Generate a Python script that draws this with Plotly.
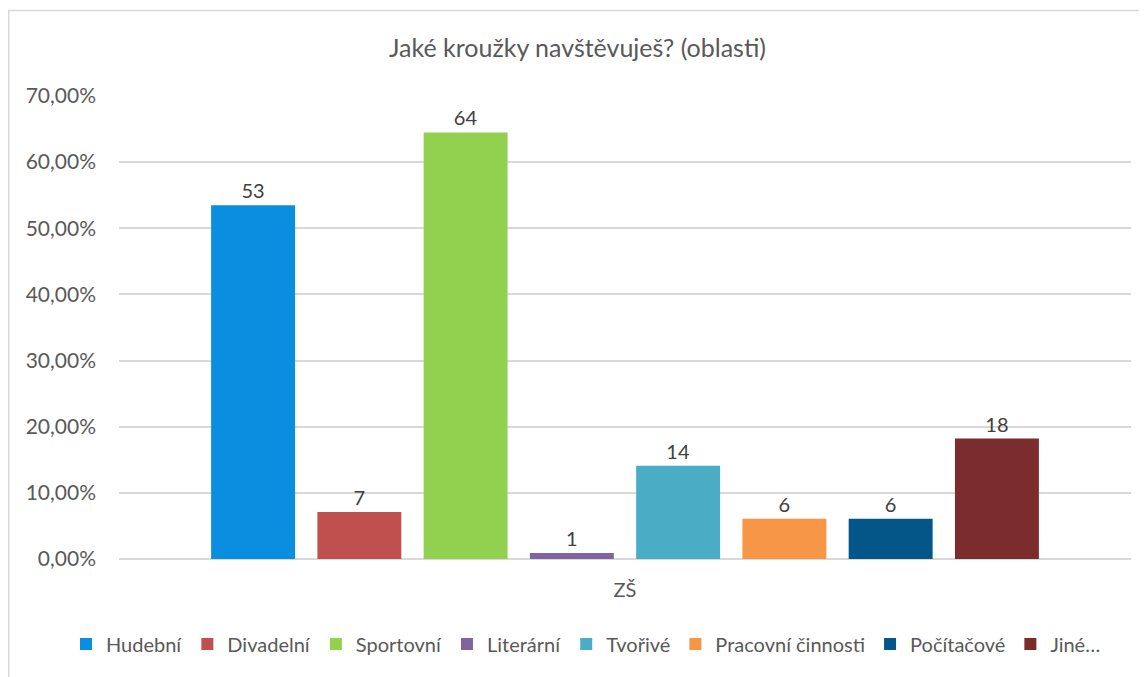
import plotly.graph_objects as go

category = ["ZŠ"]
series_names = ["Hudební", "Divadelní", "Sportovní", "Literární", "Tvořivé",
                "Pracovní činnosti", "Počítačové", "Jiné…"]
shares = [0.535, 0.071, 0.645, 0.009, 0.141, 0.061, 0.061, 0.182]
labels = ["53", "7", "64", "1", "14", "6", "6", "18"]
colors = ["#0A8EE0", "#C0504D", "#92D050", "#8064A2", "#4BACC6",
          "#F79646", "#045688", "#7B2C2C"]

FONT = "Lato, 'Open Sans', sans-serif"

W, H = 1139, 669
ML, MR, MT, MB = 111, 16, 88, 118
PW, PH = W - ML - MR, H - MT - MB

fig = go.Figure()
for name, v, lab, c in zip(series_names, shares, labels, colors):
    fig.add_trace(go.Bar(
        x=category, y=[v], name=name, marker_color=c, marker_line_width=0,
        text=[lab], textposition="outside", cliponaxis=False,
        textfont=dict(size=20, color="#404040", family=FONT),
    ))

fig.update_layout(
    width=W, height=H,
    margin=dict(l=ML, r=MR, t=MT, b=MB, autoexpand=False),
    paper_bgcolor="white", plot_bgcolor="white",
    separators=", ",
    barmode="group", bargap=0.16, bargroupgap=0.21,
    title=dict(text="Jaké kroužky navštěvuješ? (oblasti)", x=0.5, xanchor="center",
               y=1 - 40 / H, yanchor="middle",
               font=dict(size=25, color="#595959", family=FONT)),
    font=dict(family=FONT, color="#595959", size=20),
    showlegend=True,
    legend=dict(orientation="h",
                x=(58 - ML) / PW, xanchor="left",
                y=(PH - (636 - MT)) / PH, yanchor="middle",
                font=dict(size=20, color="#595959", family=FONT),
                itemwidth=30, tracegroupgap=0),
)
fig.update_yaxes(range=[0, 0.7], dtick=0.1, tickformat=".2%",
                 showgrid=True, gridcolor="#d9d9d9", gridwidth=1.5,
                 zeroline=True, zerolinecolor="#d9d9d9", zerolinewidth=1.5,
                 showline=False, ticks="", ticklabelstandoff=22,
                 tickfont=dict(size=21, color="#595959"))
fig.update_xaxes(showline=False, ticks="", showgrid=False,
                 ticklabelstandoff=17,
                 tickfont=dict(size=20, color="#595959"))

fig.add_shape(type="rect", xref="paper", yref="paper",
              x0=(0.75 - ML) / PW, x1=(W + 20 - ML) / PW,
              y0=(PH - (H + 20 - MT)) / PH, y1=(PH - (2.5 - MT)) / PH,
              line=dict(color="#d9d9d9", width=1.5), fillcolor="rgba(0,0,0,0)",
              layer="below")

fig.write_html("out.html")
